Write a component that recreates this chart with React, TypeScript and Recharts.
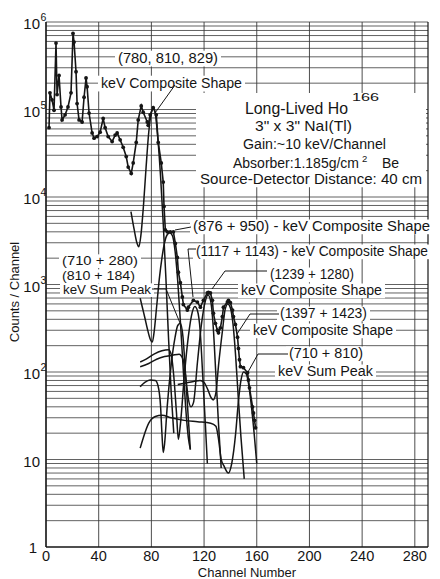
import { LineChart, Line, XAxis, YAxis, ReferenceLine } from "recharts";

const FONT = '"Liberation Sans", Arial, sans-serif';
const INK = "#151515";

// tick labels
const xTicks = [0, 40, 80, 120, 160, 200, 240, 280];
const yTicks = [1, 10, 100, 1000, 10000, 100000, 1000000];
const yGrid = [
  2, 3, 4, 5, 6, 7, 8, 9,
  10, 20, 30, 40, 50, 60, 70, 80, 90,
  100, 200, 300, 400, 500, 600, 700, 800, 900,
  1000, 2000, 3000, 4000, 5000, 6000, 7000, 8000, 9000,
  10000, 20000, 30000, 40000, 50000, 60000, 70000, 80000, 90000,
  100000, 200000, 300000, 400000, 500000, 600000, 700000, 800000, 900000,
  1000000,
];

// measured spectrum (dots)
const mainChannel = [
  2.3, 3.0, 4.6, 6.1, 7.6, 8.4, 9.9, 11.4, 12.2, 14.5,
  16.7, 19.0, 20.5, 21.3, 22.8, 23.6, 25.1, 27.4, 28.9, 30.4,
  31.2, 32.7, 35.0, 36.5, 38.8, 41.1, 43.4, 44.9, 47.2, 50.2,
  52.5, 54.0, 56.3, 58.6, 60.9, 62.4, 64.7, 66.2, 68.5, 70.0,
  72.3, 73.8, 76.9, 77.6, 79.1, 81.4, 83.7, 85.2, 87.5, 89.0,
  89.6, 90.6, 92.1, 94.4, 96.7, 98.2, 99.7, 100.5, 102.0, 103.5,
  104.3, 107.3, 108.1, 111.9, 114.9, 117.2, 119.5, 122.5, 123.3, 124.8,
  126.3, 127.1, 128.6, 130.1, 130.9, 132.4, 133.9, 134.7, 137.7, 138.5,
  140.0, 141.6, 142.3, 143.8, 145.4, 146.1, 146.9, 147.6, 149.9, 153.0,
  153.7, 154.5, 156.8, 157.5, 158.3, 159.1,
];
const mainCounts = [
  62000, 155000, 129000, 98000, 575000, 148000, 245000, 107000, 76000, 87000,
  107000, 155000, 740000, 590000, 270000, 117000, 76000, 72000, 138000, 229000,
  182000, 91000, 54000, 47000, 49000, 55000, 79000, 62000, 49000, 43000,
  51000, 54000, 45000, 37000, 29000, 22000, 18600, 24500, 42000, 76000,
  110000, 93000, 72000, 66000, 87000, 105000, 87000, 42000, 24500, 14800,
  7800, 4200, 4000, 4000, 4000, 2950, 2040, 1380, 1050, 720,
  590, 510, 550, 660, 630, 550, 660, 800, 810, 800,
  660, 470, 360, 300, 280, 320, 430, 550, 630, 660,
  620, 510, 430, 350, 250, 186, 138, 115, 112, 98,
  81, 66, 40, 34, 28, 23,
];

// fitted component shapes (solid curves)
const shape780Channel = [64.5, 67, 69, 70.5, 72, 74, 76, 78, 80, 81.5, 83, 85, 87, 89, 91, 93, 95, 97];
const shape780Counts = [6800, 4200, 3000, 2700, 3600, 8000, 22000, 55000, 92000, 104000, 90000, 45000, 17000, 5000, 1200, 250, 60, 20];

const shape876Channel = [71.5, 73, 75, 77, 79, 80.7, 82, 84, 86, 88, 90, 92, 94, 96, 98, 100, 102, 104, 106, 108, 109.6];
const shape876Counts = [700, 560, 420, 310, 240, 220, 280, 560, 1150, 2000, 3000, 3700, 3900, 3600, 2400, 1100, 380, 120, 40, 18, 13];

const sum990Channel = [71.5, 75, 79, 83, 85, 87, 88, 89, 90, 92, 95, 98, 100, 102, 104, 106, 108, 109.6];
const sum990Counts = [68, 76, 81, 80, 70, 40, 20, 12, 15, 40, 120, 250, 340, 360, 250, 90, 30, 13];

const shape1117Channel = [71.5, 76, 82, 88, 93, 95, 97, 99, 100.5, 102, 105, 108, 111, 113, 115, 117, 119, 121, 122.5];
const shape1117Counts = [130, 140, 160, 175, 180, 160, 90, 35, 17, 25, 90, 250, 480, 560, 500, 300, 90, 25, 9];

const shape1239Channel = [71.5, 78, 84, 90, 96, 101, 104, 106, 108, 110, 112, 115, 118, 121, 123, 125, 127, 129, 131, 133];
const shape1239Counts = [115, 125, 140, 150, 155, 160, 140, 90, 50, 40, 45, 130, 350, 650, 760, 650, 320, 90, 25, 8];

const shape1397Channel = [100, 106, 112, 117, 120, 123, 125, 127, 129, 131, 134, 136, 138, 140, 142, 144, 146, 148, 150.5];
const shape1397Counts = [72, 75, 78, 80, 76, 62, 52, 48, 58, 120, 300, 520, 600, 540, 350, 150, 50, 18, 6];

const sum1520Channel = [71.5, 74, 78, 83, 88, 95, 105, 115, 125, 129, 131, 133, 135, 138.5, 141, 144, 146, 148, 150, 152, 154, 156, 158, 160];
const sum1520Counts = [13.5, 18, 26, 31, 32, 30, 28, 27, 26, 24, 17, 10, 8.5, 7, 9, 20, 45, 80, 100, 95, 70, 40, 20, 9];

const toRows = (ch: number[], v: number[]) => ch.map((c, i) => ({ ch: c, v: v[i] }));

const components = [
  toRows(shape780Channel, shape780Counts),
  toRows(shape876Channel, shape876Counts),
  toRows(sum990Channel, sum990Counts),
  toRows(shape1117Channel, shape1117Counts),
  toRows(shape1239Channel, shape1239Counts),
  toRows(shape1397Channel, shape1397Counts),
  toRows(sum1520Channel, sum1520Counts),
];
const spectrum = toRows(mainChannel, mainCounts);

function YTick({ y, payload }: any) {
  const e = Math.round(Math.log10(payload.value));
  if (e === 0) {
    return (
      <text x={37} y={y + 6} textAnchor="end" fontFamily={FONT} fontSize={15} fill={INK}>1</text>
    );
  }
  return (
    <g>
      <text x={40} y={y + 7} textAnchor="end" fontFamily={FONT} fontSize={15} fill={INK}>10</text>
      {e > 1 && (
        <text x={40.5} y={y - 1} fontFamily={FONT} fontSize={10.5} fill={INK}>{e}</text>
      )}
    </g>
  );
}

function XTick({ x, payload }: any) {
  return (
    <text x={x} y={561} textAnchor="middle" fontFamily={FONT} fontSize={14.5} fill={INK}>
      {payload.value}
    </text>
  );
}

type Note = { x: number; y: number; t: string; fs: number; len: number };

const notes: Note[] = [
  { x: 118, y: 63, t: "(780, 810, 829)", fs: 15, len: 100 },
  { x: 101, y: 88, t: "keV Composite Shape", fs: 15, len: 141 },
  { x: 245, y: 114, t: "Long-Lived Ho", fs: 17, len: 103 },
  { x: 255, y: 131, t: '3" x 3" NaI(Tl)', fs: 15, len: 97 },
  { x: 243, y: 149, t: "Gain:~10 keV/Channel", fs: 14, len: 143 },
  { x: 200, y: 184, t: "Source-Detector Distance: 40 cm", fs: 14, len: 222 },
  { x: 193, y: 231, t: "(876 + 950) - keV Composite Shape", fs: 14, len: 237 },
  { x: 196, y: 256, t: "(1117 + 1143) - keV Composite Shape", fs: 14, len: 232 },
  { x: 270, y: 279, t: "(1239 + 1280)", fs: 14, len: 84 },
  { x: 241, y: 295, t: "keV Composite Shape", fs: 14, len: 141 },
  { x: 280, y: 318, t: "(1397 + 1423)", fs: 14, len: 87 },
  { x: 253, y: 335, t: "keV Composite Shape", fs: 14, len: 140 },
  { x: 289, y: 358, t: "(710 + 810)", fs: 14, len: 74 },
  { x: 278, y: 376, t: "keV Sum Peak", fs: 14, len: 95 },
  { x: 62, y: 265, t: "(710 + 280)", fs: 13, len: 76 },
  { x: 62, y: 280, t: "(810 + 184)", fs: 13, len: 73 },
  { x: 63, y: 294, t: "keV Sum Peak", fs: 13, len: 88 },
];

const leaders = [
  "M175,85 L155,113",
  "M191,227 L175,230",
  "M196,249 L188,249 L193,297",
  "M267,271 L225,271 L212,289",
  "M279,314 L250,314 L237,334",
  "M288,354 L258,354 L248,372",
  "M152,289 L166,289 L180,323",
];

function Annotations() {
  return (
    <svg width={440} height={579} style={{ position: "absolute", left: 0, top: 0, pointerEvents: "none" }}>
      <rect x={196} y={93} width={230} height={94} fill="#fff" />
      {notes.map((n, i) => (
        <rect key={"m" + i} x={n.x - 3} y={n.y - n.fs * 0.82} width={n.len + 6} height={n.fs * 1.05} fill="#fff" />
      ))}
      {notes.map((n, i) => (
        <text key={"t" + i} x={n.x} y={n.y} fontFamily={FONT} fontSize={n.fs} fill={INK}
          textLength={n.len} lengthAdjust="spacingAndGlyphs">{n.t}</text>
      ))}
      <text x={352} y={101} fontFamily={FONT} fontSize={11.5} fill={INK} textLength={27} lengthAdjust="spacingAndGlyphs">166</text>
      <text x={233} y={168} fontFamily={FONT} fontSize={14} fill={INK} textLength={126} lengthAdjust="spacingAndGlyphs">Absorber:1.185g/cm</text>
      <text x={362} y={162} fontFamily={FONT} fontSize={9.5} fill={INK}>2</text>
      <text x={382} y={168} fontFamily={FONT} fontSize={14} fill={INK}>Be</text>
      {leaders.map((d, i) => (
        <path key={"l" + i} d={d} fill="none" stroke={INK} strokeWidth={1} />
      ))}
      <text x={247} y={577} textAnchor="middle" fontFamily={FONT} fontSize={13} fill={INK}>Channel Number</text>
      <text x={0} y={0} transform="translate(19,292) rotate(-90)" textAnchor="middle" fontFamily={FONT} fontSize={13} fill={INK}>
        Counts / Channel
      </text>
    </svg>
  );
}

export default function App() {
  return (
    <div style={{ position: "relative", width: 440, height: 579, background: "#fff" }}>
      <style>{"body{margin:0;background:#fff}"}</style>
      <LineChart width={440} height={579} margin={{ top: 22, right: 12, bottom: 0, left: 0 }}>
        <XAxis
          type="number"
          dataKey="ch"
          domain={[0, 290]}
          ticks={xTicks}
          tick={<XTick />}
          tickLine={false}
          axisLine={{ stroke: INK, strokeWidth: 1.4 }}
          height={32}
          allowDataOverflow
        />
        <YAxis
          scale="log"
          domain={[1, 1000000]}
          ticks={yTicks}
          tick={<YTick />}
          tickLine={false}
          axisLine={{ stroke: INK, strokeWidth: 1.4 }}
          width={46}
          allowDataOverflow
        />
        {yGrid.map((v) => (
          <ReferenceLine key={"h" + v} y={v} stroke="#3a3a3a" strokeWidth={0.8} />
        ))}
        {xTicks.map((v) => (
          <ReferenceLine key={"v" + v} x={v} stroke="#3a3a3a" strokeWidth={0.9} />
        ))}
        <ReferenceLine x={290} stroke={INK} strokeWidth={1.2} />
        {components.map((rows, i) => (
          <Line
            key={i}
            data={rows}
            dataKey="v"
            type="monotone"
            stroke={INK}
            strokeWidth={1.5}
            dot={false}
            isAnimationActive={false}
          />
        ))}
        <Line
          data={spectrum}
          dataKey="v"
          type="linear"
          stroke={INK}
          strokeWidth={1.6}
          dot={{ r: 1.9, fill: INK, stroke: "none" }}
          isAnimationActive={false}
        />
      </LineChart>
      <Annotations />
    </div>
  );
}
